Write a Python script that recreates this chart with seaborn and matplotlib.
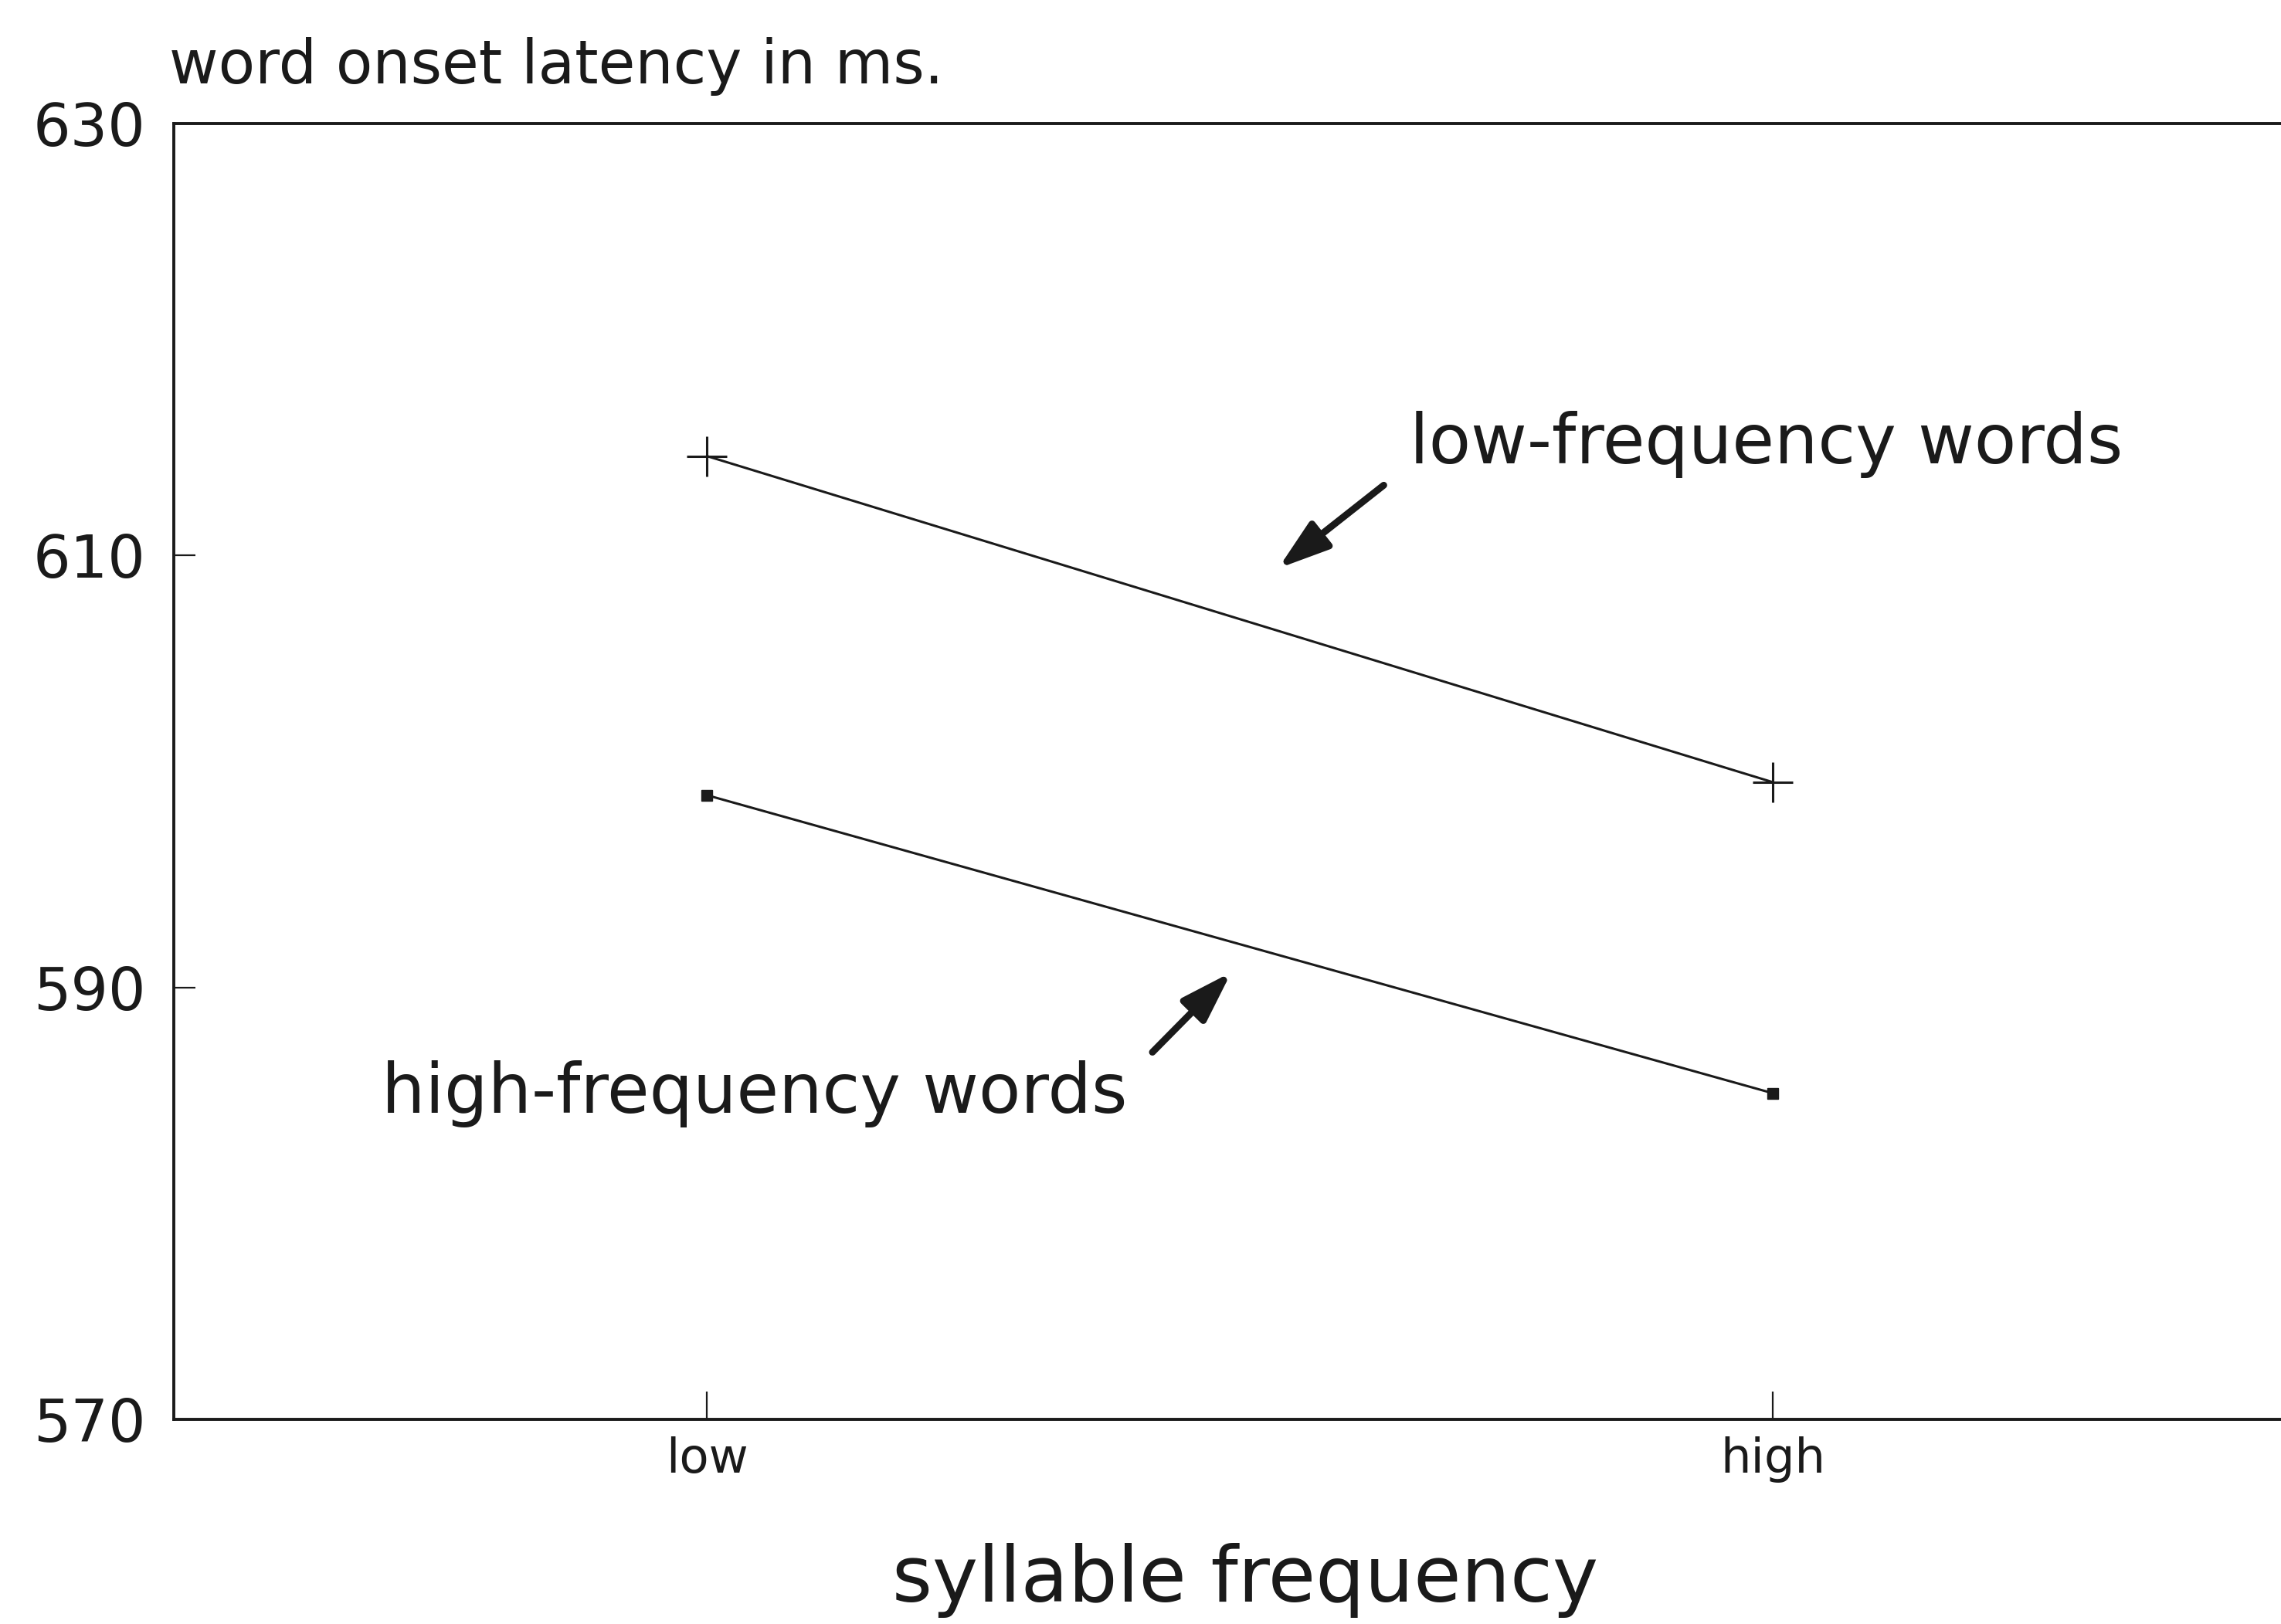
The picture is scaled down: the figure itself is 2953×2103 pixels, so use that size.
import matplotlib
matplotlib.use("Agg")
import matplotlib.pyplot as plt
import pandas as pd
import seaborn as sns

# values
categories = ["low", "high"]
low_freq_words = [614.6, 599.5]
high_freq_words = [598.9, 585.1]
y_ticks = [570, 590, 610, 630]

sns.set_style("ticks")
plt.rcParams["font.family"] = ["DejaVu Sans"]

pos = list(range(len(categories)))
df = pd.concat(
    [
        pd.DataFrame({"pos": pos, "latency": low_freq_words, "group": "low-frequency words"}),
        pd.DataFrame({"pos": pos, "latency": high_freq_words, "group": "high-frequency words"}),
    ],
    ignore_index=True,
)

fig = plt.figure(figsize=(2953 / 200, 2103 / 200), dpi=200)
# the scanned axes run off the right edge of the page
ax = fig.add_axes([0.0762, 0.126, 0.9347, 0.798])

ink = "#1a1a1a"
sns.lineplot(
    data=df[df["group"] == "low-frequency words"], x="pos", y="latency",
    color=ink, lw=1.1, marker="+", markersize=19, markeredgewidth=1.1,
    markeredgecolor=ink, ax=ax,
)
sns.lineplot(
    data=df[df["group"] == "high-frequency words"], x="pos", y="latency",
    color=ink, lw=1.1, marker="s", markersize=5, markeredgewidth=0.5,
    markeredgecolor=ink, markerfacecolor=ink, ax=ax,
)

ax.set_xlim(-0.5, 1.5)
ax.set_ylim(y_ticks[0], y_ticks[-1])
ax.set_xticks(pos)
ax.set_xticklabels(categories, fontsize=22.5)
ax.set_yticks(y_ticks)
ax.set_yticklabels([str(t) for t in y_ticks], fontsize=27.5)
ax.tick_params(axis="x", direction="in", length=13, width=0.8, pad=8, colors=ink)
ax.tick_params(axis="y", direction="in", length=10, width=0.8, pad=13, colors=ink)
ax.set_xlabel("")
ax.set_ylabel("")
for side in ["left", "top", "bottom"]:
    ax.spines[side].set_linewidth(1.4)
    ax.spines[side].set_color(ink)
ax.spines["right"].set_visible(False)

# labels with arrows pointing at the lines
arrow = dict(arrowstyle="-|>,head_length=0.4,head_width=0.13", lw=3.2,
             color=ink, mutation_scale=50, shrinkA=0, shrinkB=0)
ax.text(0.659, 614.25, "low-frequency words", fontsize=32, color=ink,
        ha="left", va="baseline")
ax.annotate("", xy=(0.536, 609.4), xytext=(0.635, 613.25), arrowprops=arrow)
ax.text(-0.305, 584.2, "high-frequency words", fontsize=32, color=ink,
        ha="left", va="baseline")
ax.annotate("", xy=(0.492, 590.7), xytext=(0.418, 587.0), arrowprops=arrow)

fig.text(0.0742, 0.9486, "word onset latency in ms.", fontsize=28, color=ink,
         ha="left", va="baseline")
fig.text(0.546, 0.014, "syllable frequency", fontsize=36, color=ink,
         ha="center", va="baseline")

fig.savefig("out.png", dpi=200, facecolor="white")
